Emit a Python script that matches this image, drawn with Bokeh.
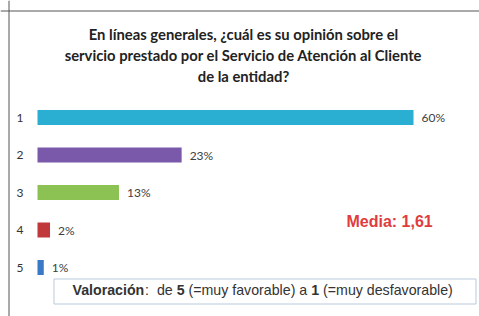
from bokeh.plotting import figure
from bokeh.models import Range1d, Span, Label, ColumnDataSource
from bokeh.core.properties import value
from bokeh.embed import file_html
from bokeh.resources import INLINE

# ---- data ----
categories = [1, 2, 3, 4, 5]
cat_labels = ["1", "2", "3", "4", "5"]
percent = [60, 23, 13, 2, 1]
pct_labels = ["60%", "23%", "13%", "2%", "1%"]
colors = ["#2aaed2", "#7a59ab", "#8cc153", "#c0383a", "#3a79c6"]
title_lines = [
    "En líneas generales, ¿cuál es su opinión sobre el",
    "servicio prestado por el Servicio de Atención al Cliente",
    "de la entidad?",
]
media_text = "Media: 1,61"
val_pieces = [("Valoración", True), (":", False), ("  de ", False), ("5", True),
              (" (=muy favorable) a ", False), ("1", True), (" (=muy desfavorable)", False)]

# ---- layout (pixel geometry) ----
W, H = 479, 316
X0 = 37.0          # pixel of 0%
PX_PER_PCT = 6.267
Y1 = 117.0         # pixel of category 1 centre
ROW = 37.5

x_start = -X0 / PX_PER_PCT
x_end = (W - X0) / PX_PER_PCT
y_top = 1 - Y1 / ROW
y_bot = 1 + (H - Y1) / ROW

def fx(px):
    return x_start + px / PX_PER_PCT

def fy(py):
    return y_top + py / ROW

p = figure(width=W, height=H, output_backend="svg", toolbar_location=None,
           x_range=Range1d(x_start, x_end), y_range=Range1d(y_bot, y_top),
           min_border=0, min_border_left=0, min_border_right=0,
           min_border_top=0, min_border_bottom=0)
p.axis.visible = False
p.grid.visible = False
p.outline_line_color = None
p.background_fill_color = "white"
p.border_fill_color = "white"

# frame lines (left and top)
p.add_layout(Span(location=fx(8.5), dimension="height", line_color="#555555", line_width=1))
p.add_layout(Span(location=fy(10.5), dimension="width", line_color="#555555", line_width=1))

src = ColumnDataSource(dict(y=categories, v=percent, c=colors, lab=cat_labels, pl=pct_labels,
                            lx=[fx(19.5)] * len(categories)))
p.hbar(y="y", left=0, right="v", height=15 / ROW, fill_color="c", line_color=None, source=src)
p.text(x="v", y="y", text="pl", x_offset=8, text_baseline="middle", text_align="left",
       text_font=value("Lato"), text_font_size="12px", text_color="#404040", source=src)
p.text(x="lx", y="y", text="lab", text_baseline="middle", text_align="center",
       text_font=value("Lato"), text_font_size="12px", text_color="#333333", source=src)

# title
for i, t in enumerate(title_lines):
    p.add_layout(Label(x=fx(243), y=fy(33 + i * 21), text=t, text_align="center",
                       text_baseline="middle", text_font="Lato", text_font_style="bold",
                       text_font_size="14.8px", text_color="#222222"))

# media
p.add_layout(Label(x=fx(346), y=fy(221), text=media_text, text_align="left",
                   text_baseline="middle", text_font="Liberation Sans", text_font_style="bold",
                   text_font_size="16px", text_color="#e03c3e"))

# valoracion box
p.quad(left=fx(53.5), right=fx(475.5), top=fy(278.5), bottom=fy(303.5),
       fill_color="white", line_color="#b9c9dd", line_width=1)

REG = {" ": 278, "(": 333, ")": 333, ":": 278, "=": 584, "1": 556, "5": 556, "a": 556,
       "b": 556, "c": 500, "d": 556, "e": 556, "f": 278, "i": 222, "l": 222, "m": 833,
       "n": 556, "o": 556, "ó": 556, "r": 333, "s": 500, "u": 556, "v": 500, "y": 500}
BOLD = {"V": 667, "a": 556, "l": 278, "o": 611, "r": 389, "c": 556, "i": 278, "ó": 611,
        "n": 611, "1": 556, "5": 556}
FS = 14.2
cx = 72.0
for txt, bold in val_pieces:
    table = BOLD if bold else REG
    p.add_layout(Label(x=fx(cx), y=fy(289), text=txt.replace(" ", "\u00a0"), text_align="left",
                       text_baseline="middle", text_font="Liberation Sans",
                       text_font_style="bold" if bold else "normal",
                       text_font_size=f"{FS}px", text_color="#333333"))
    cx += sum(table.get(ch, 556) for ch in txt) * FS / 1000

open("out.html", "w").write(file_html(p, INLINE))
